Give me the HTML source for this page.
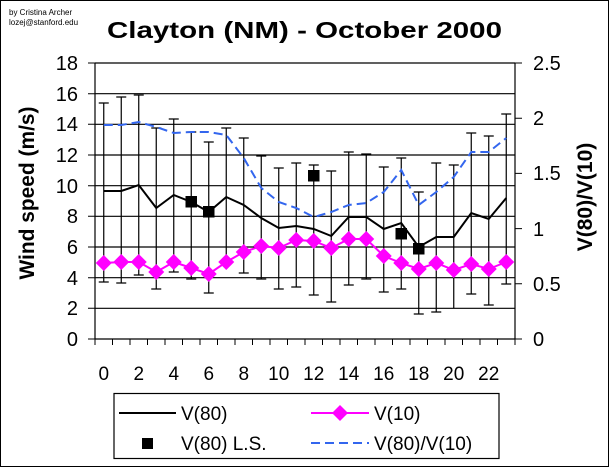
<!DOCTYPE html>
<html><head><meta charset="utf-8"><style>
html,body{margin:0;padding:0;background:#fff;}
svg{display:block;}
text{font-family:"Liberation Sans",Arial,sans-serif;}
</style></head><body>
<svg width="610" height="467" viewBox="0 0 610 467" xmlns="http://www.w3.org/2000/svg">
<rect x="0.5" y="0.5" width="608" height="466" fill="#fff" stroke="#000" stroke-width="1"/>
<text x="9" y="15" font-size="8">by Cristina Archer</text>
<text x="9" y="25" font-size="8">lozej@stanford.edu</text>
<text x="107" y="38" font-size="23" font-weight="bold" textLength="395" lengthAdjust="spacingAndGlyphs">Clayton (NM) - October 2000</text>
<!-- gridlines -->
<g stroke="#000" stroke-width="1.2">
<line x1="95" y1="63" x2="515" y2="63"/>
<line x1="95" y1="93.7" x2="515" y2="93.7"/>
<line x1="95" y1="124.3" x2="515" y2="124.3"/>
<line x1="95" y1="155" x2="515" y2="155"/>
<line x1="95" y1="185.7" x2="515" y2="185.7"/>
<line x1="95" y1="216.3" x2="515" y2="216.3"/>
<line x1="95" y1="247" x2="515" y2="247"/>
<line x1="95" y1="277.7" x2="515" y2="277.7"/>
<line x1="95" y1="308.3" x2="515" y2="308.3"/>
<line x1="95" y1="339" x2="515" y2="339"/>
<line x1="95" y1="63" x2="95" y2="339"/>
<line x1="515" y1="63" x2="515" y2="339"/>
</g>
<!-- left ticks -->
<g stroke="#000">
<path d="M88 63H95M88 93.7H95M88 124.3H95M88 155H95M88 185.7H95M88 216.3H95M88 247H95M88 277.7H95M88 308.3H95M88 339H95"/>
<path d="M515 63H522M515 118.2H522M515 173.4H522M515 228.6H522M515 283.8H522M515 339H522"/>
<path d="M95 339V345M112.5 339V345M130 339V345M147.5 339V345M165 339V345M182.5 339V345M200 339V345M217.5 339V345M235 339V345M252.5 339V345M270 339V345M287.5 339V345M305 339V345M322.5 339V345M340 339V345M357.5 339V345M375 339V345M392.5 339V345M410 339V345M427.5 339V345M445 339V345M462.5 339V345M480 339V345M497.5 339V345M515 339V345"/>
</g>
<g font-size="20" text-anchor="end">
<text x="78" y="70">18</text><text x="78" y="101">16</text><text x="78" y="131">14</text><text x="78" y="162">12</text><text x="78" y="193">10</text><text x="78" y="223">8</text><text x="78" y="254">6</text><text x="78" y="285">4</text><text x="78" y="315">2</text><text x="78" y="346">0</text>
</g>
<g font-size="20">
<text x="533" y="70">2.5</text><text x="533" y="125">2</text><text x="533" y="180">1.5</text><text x="533" y="236">1</text><text x="533" y="291">0.5</text><text x="533" y="346">0</text>
</g>
<g font-size="19" text-anchor="middle">
<text x="103.75" y="380">0</text><text x="138.75" y="380">2</text><text x="173.75" y="380">4</text><text x="208.75" y="380">6</text><text x="243.75" y="380">8</text><text x="278.75" y="380">10</text><text x="313.75" y="380">12</text><text x="348.75" y="380">14</text><text x="383.75" y="380">16</text><text x="418.75" y="380">18</text><text x="453.75" y="380">20</text><text x="488.75" y="380">22</text>
</g>
<text transform="translate(34,193) rotate(-90)" font-size="21" font-weight="bold" text-anchor="middle" textLength="173" lengthAdjust="spacingAndGlyphs">Wind speed (m/s)</text>
<text transform="translate(592,197) rotate(-90)" font-size="21" font-weight="bold" text-anchor="middle">V(80)/V(10)</text>
<!-- error bars -->
<g stroke="#000" stroke-width="1.2">
<path d="M103.75 103V282M98.75 103H108.75M98.75 282H108.75"/>
<path d="M121.25 97V283M116.25 97H126.25M116.25 283H126.25"/>
<path d="M138.75 95V275M133.75 95H143.75M133.75 275H143.75"/>
<path d="M156.25 128V289M151.25 128H161.25M151.25 289H161.25"/>
<path d="M173.75 119V272M168.75 119H178.75M168.75 272H178.75"/>
<path d="M191.25 132V279M186.25 132H196.25M186.25 279H196.25"/>
<path d="M208.75 142V293M203.75 142H213.75M203.75 293H213.75"/>
<path d="M226.25 128V264M221.25 128H231.25"/>
<path d="M243.75 138V273M238.75 138H248.75M238.75 273H248.75"/>
<path d="M261.25 156V279M256.25 156H266.25M256.25 279H266.25"/>
<path d="M278.75 168V289M273.75 168H283.75M273.75 289H283.75"/>
<path d="M296.25 163V287M291.25 163H301.25M291.25 287H301.25"/>
<path d="M313.75 165V295M308.75 165H318.75M308.75 295H318.75"/>
<path d="M331.25 171V302M326.25 171H336.25M326.25 302H336.25"/>
<path d="M348.75 152V285M343.75 152H353.75M343.75 285H353.75"/>
<path d="M366.25 154V279M361.25 154H371.25M361.25 279H371.25"/>
<path d="M383.75 167V292M378.75 167H388.75M378.75 292H388.75"/>
<path d="M401.25 158V289M396.25 158H406.25M396.25 289H406.25"/>
<path d="M418.75 192V314M413.75 192H423.75M413.75 314H423.75"/>
<path d="M436.25 163V312M431.25 163H441.25M431.25 312H441.25"/>
<path d="M453.75 165V308M448.75 165H458.75"/>
<path d="M471.25 133V294M466.25 133H476.25M466.25 294H476.25"/>
<path d="M488.75 136V305M483.75 136H493.75M483.75 305H493.75"/>
<path d="M506.25 114V284M501.25 114H511.25M501.25 284H511.25"/>
</g>
<!-- ratio dashed -->
<polyline fill="none" stroke="#3366ee" stroke-width="2" stroke-dasharray="9,5" points="103.75,125 121.25,125 138.75,122 156.25,127 173.75,133 191.25,132 208.75,132 226.25,135 243.75,158 261.25,188 278.75,202 296.25,208 313.75,217 331.25,212 348.75,205 366.25,203 383.75,192 401.25,170 418.75,205 436.25,192 453.75,177 471.25,152 488.75,152 506.25,138"/>
<!-- V80 -->
<polyline fill="none" stroke="#000" stroke-width="2" points="103.75,191 121.25,191 138.75,185 156.25,208 173.75,195 191.25,202 208.75,212 226.25,197 243.75,205 261.25,218 278.75,228 296.25,226 313.75,229 331.25,236 348.75,217 366.25,217 383.75,229 401.25,223 418.75,247 436.25,237 453.75,237 471.25,213 488.75,219 506.25,198"/>
<!-- V10 -->
<polyline fill="none" stroke="#ff00ff" stroke-width="2" points="103.75,263 121.25,262 138.75,262 156.25,272 173.75,262 191.25,268 208.75,274 226.25,262 243.75,252 261.25,246 278.75,248 296.25,240 313.75,241 331.25,248 348.75,239 366.25,239 383.75,256 401.25,263 418.75,269 436.25,263 453.75,270 471.25,264 488.75,269 506.25,262"/>
<g fill="#ff00ff">
<path d="M103.75 255l8 8-8 8-8-8zM121.25 254l8 8-8 8-8-8zM138.75 254l8 8-8 8-8-8zM156.25 264l8 8-8 8-8-8zM173.75 254l8 8-8 8-8-8zM191.25 260l8 8-8 8-8-8zM208.75 266l8 8-8 8-8-8zM226.25 254l8 8-8 8-8-8zM243.75 244l8 8-8 8-8-8zM261.25 238l8 8-8 8-8-8zM278.75 240l8 8-8 8-8-8zM296.25 232l8 8-8 8-8-8zM313.75 233l8 8-8 8-8-8zM331.25 240l8 8-8 8-8-8zM348.75 231l8 8-8 8-8-8zM366.25 231l8 8-8 8-8-8zM383.75 248l8 8-8 8-8-8zM401.25 255l8 8-8 8-8-8zM418.75 261l8 8-8 8-8-8zM436.25 255l8 8-8 8-8-8zM453.75 262l8 8-8 8-8-8zM471.25 256l8 8-8 8-8-8zM488.75 261l8 8-8 8-8-8zM506.25 254l8 8-8 8-8-8z"/>
</g>
<!-- LS squares -->
<g fill="#000">
<rect x="185.5" y="196" width="11.5" height="11.5"/>
<rect x="203" y="206" width="11.5" height="11.5"/>
<rect x="308" y="170" width="11.5" height="11.5"/>
<rect x="395.5" y="228" width="11.5" height="11.5"/>
<rect x="413" y="243" width="11.5" height="11.5"/>
</g>
<!-- legend -->
<rect x="114" y="393.5" width="385" height="65" fill="#fff" stroke="#000" stroke-width="1.2"/>
<line x1="119" y1="413" x2="176" y2="413" stroke="#000" stroke-width="2"/>
<text x="181" y="420" font-size="19">V(80)</text>
<line x1="311" y1="413" x2="369" y2="413" stroke="#ff00ff" stroke-width="2"/>
<path d="M340 405l8 8-8 8-8-8z" fill="#ff00ff"/>
<text x="374" y="420" font-size="19">V(10)</text>
<rect x="142" y="438" width="11" height="11" fill="#000"/>
<text x="181" y="450" font-size="19">V(80) L.S.</text>
<line x1="311" y1="443" x2="369" y2="443" stroke="#3366ee" stroke-width="2" stroke-dasharray="9,5"/>
<text x="374" y="450" font-size="19">V(80)/V(10)</text>
</svg>
</body></html>
